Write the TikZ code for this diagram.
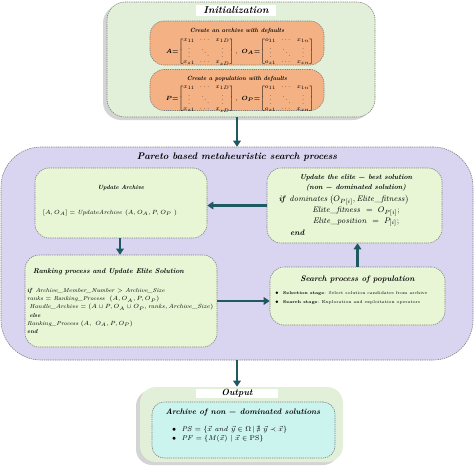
\documentclass[tikz,border=0pt]{standalone}
\usepackage{amsmath,amssymb}
\usetikzlibrary{shadows,arrows.meta}
\definecolor{initg}{HTML}{E2F0D9}
\definecolor{orng}{HTML}{F4B183}
\definecolor{purp}{HTML}{D9D5F1}
\definecolor{ing}{HTML}{E8F6D6}
\definecolor{cyn}{HTML}{CCF4EF}
\definecolor{arr}{HTML}{1F5A63}
\definecolor{bord}{HTML}{808080}
\newcommand\fs[1]{\fontsize{#1}{#1}\selectfont}
\newcommand\tbi{\bfseries\itshape}
\newcommand\smv{\raisebox{1pt}{$\scriptscriptstyle\vdots$}}
\newcommand\smd{\raisebox{1pt}{$\scriptscriptstyle\ddots$}}
\newcommand\mymat[3]{\boldsymbol{#1{=}}\!\left[\setlength{\arraycolsep}{2.5pt}\renewcommand{\arraystretch}{0.8}\begin{array}{@{}ccc@{}} #2_{11} & \cdots & x_{1#3}\\ \smv & \smd & \smv \\ #2_{z1} & \cdots & x_{z#3}\end{array}\right]}
\tikzset{
  dbox/.style={draw=bord, dash pattern=on 1.3pt off 0.9pt, line width=0.6pt, rounded corners=#1, inner sep=0pt},
  conn/.style={draw=arr, line width=2.3pt, -{Triangle[length=6pt,width=7.5pt]}},
  shad/.style={drop shadow={shadow xshift=-4pt,shadow yshift=-3pt,opacity=.3,fill=black!55}},
  ttl/.style={fill=white, inner sep=0pt},
  txt/.style={inner sep=0pt},
  matf/.style={inner sep=0pt, font=\fontsize{6}{6.5}\selectfont},
}
\begin{document}
\begin{tikzpicture}[x=1pt,y=-1pt]
\useasboundingbox[fill=white] (0,0) rectangle (474,467);
% Initialization
\node[dbox=18pt, fill=initg, shad, minimum width=268pt, minimum height=115pt] (init) at (241,59.5) {};
\node[ttl, minimum width=80pt, minimum height=11pt] (initt) at (236,10) {\fs{10}\tbi Initialization};
\node[dbox=14pt, fill=orng, minimum width=174pt, minimum height=44pt] (ca) at (237,43) {};
\node[txt] (cat) at (237,31) {\fs{6}\tbi Create an archive with defaults};
\node[matf] (cam) at (240,51.5) {$\mymat{A}{x}{D},\ \mymat{O_A}{o}{n}$};
\node[dbox=14pt, fill=orng, minimum width=174pt, minimum height=41pt] (cp) at (237,90) {};
\node[txt] (cpt) at (237,79) {\fs{6}\tbi Create a population with defaults};
\node[matf] (cpm) at (240,98.5) {$\mymat{P}{x}{D},\ \mymat{O_P}{o}{n}$};
% Pareto
\node[dbox=40pt, fill=purp, minimum width=472pt, minimum height=213pt] (par) at (237,253.5) {};
\node[txt] (part) at (237,157) {\fs{9.5}\tbi Pareto based metaheuristic search process};
% Update archive
\node[dbox=14pt, fill=ing, minimum width=172pt, minimum height=70pt] (ua) at (121,203) {};
\node[txt] (uat) at (121,188) {\fs{6}\tbi Update Archive};
\node[txt] (uaf) at (110,213) {\fs{6}$[A, O_A] = \mathit{UpdateArchive}\ (A, O_A, P, O_P\ )$};
% Elite
\node[dbox=14pt, fill=ing, minimum width=175pt, minimum height=75pt] (el) at (354.5,205.5) {};
\node[txt] (el1) at (356,178) {\fs{7}\tbi Update the elite $\boldsymbol{-}$ best solution};
\node[txt] (el2) at (356,187.5) {\fs{7}\tbi (non $\boldsymbol{-}$ dominated solution)};
\node[txt] (el3) at (344,200) {\fs{8}$\boldsymbol{\mathit{if}}\ \mathit{dominates}\,\big(O_{P[i]}, \mathit{Elite\_fitness}\big)$};
\node[txt] (el4) at (356,211.5) {\fs{8}$\mathit{Elite\_fitness}\ =\ O_{P[i]};$};
\node[txt] (el5) at (356,222) {\fs{8}$\mathit{Elite\_position}\ =\ P_{[i]};$};
\node[txt, anchor=west] (el6) at (290,233) {\fs{8}\tbi end};
% Ranking
\node[dbox=14pt, fill=ing, minimum width=192pt, minimum height=92pt] (rk) at (121,301) {};
\node[txt, anchor=west] (rkt) at (33,272) {\fs{7}\tbi Ranking process and Update Elite Solution};
\node[txt, anchor=north west, align=left, font=\fontsize{5.8}{8.3}\selectfont\itshape] (rkb) at (27,288) {%
$\boldsymbol{\mathit{if}}$ Archive\_Member\_Number $>$ Archive\_Size\\
ranks $=$ Ranking\_Process\ \ $(A, O_A, P, O_P)$\\
\ Handle\_Archive $= (A\cup P, O_A\cup O_P, \mathit{ranks}, \mathit{Archive\_Size})$\\
\ \textbf{else}\\
Ranking\_Process $(A,\ O_A, P, O_P)$\\
\textbf{end}};
% Search
\node[dbox=14pt, fill=ing, minimum width=175pt, minimum height=58pt] (sr) at (357.5,296) {};
\node[txt] (srt) at (357.5,279) {\fs{8}\tbi Search process of population};
\node[txt, anchor=north west, align=left, font=\fontsize{4.2}{9}\selectfont] (srb) at (275,291) {%
$\bullet$\ \ \textbf{Selection stage}: Select solution candidates from archive\\
$\bullet$\ \ \textbf{Search stage}: Exploration and exploitation operators};
% Output
\node[dbox=16pt, fill=initg, draw=none, shad, minimum width=203pt, minimum height=75pt] (out) at (241.5,424.5) {};
\node[ttl, minimum width=82pt, minimum height=9.5pt] (outt) at (237,393.5) {\fs{9}\tbi Output};
\node[dbox=12pt, fill=cyn, minimum width=183pt, minimum height=56pt] (arc) at (243.5,430) {};
\node[txt] (arct) at (243,412) {\fs{8}\tbi Archive of non $\boldsymbol{-}$ dominated solutions};
\node[txt, anchor=north west, align=left, font=\fontsize{7}{8.5}\selectfont] (arcb) at (172,426.5) {%
$\bullet$\ \ $\mathit{PS} = \{\vec{x}\ \mathit{and}\ \vec{y}\in\Omega \,|\, \nexists\ \vec{y}\prec\vec{x}\}$\\
$\bullet$\ \ $\mathit{PF} = \{M(\vec{x})\ |\ \vec{x}\in \mathrm{PS}\}$};
% connectors
\draw[conn] (par.north |- init.south) -- (par.north);
\draw[conn] (el.west) -- (el.west -| ua.east);
\draw[conn] (ua.south -| 120,0) -- (rk.north -| 120,0);
\draw[conn] (sr.north) -- (sr.north |- el.south);
\draw[conn] (rk.east) -- (rk.east -| sr.west);
\draw[conn] (par.south) -- (par.south |- out.north);
\end{tikzpicture}
\end{document}
